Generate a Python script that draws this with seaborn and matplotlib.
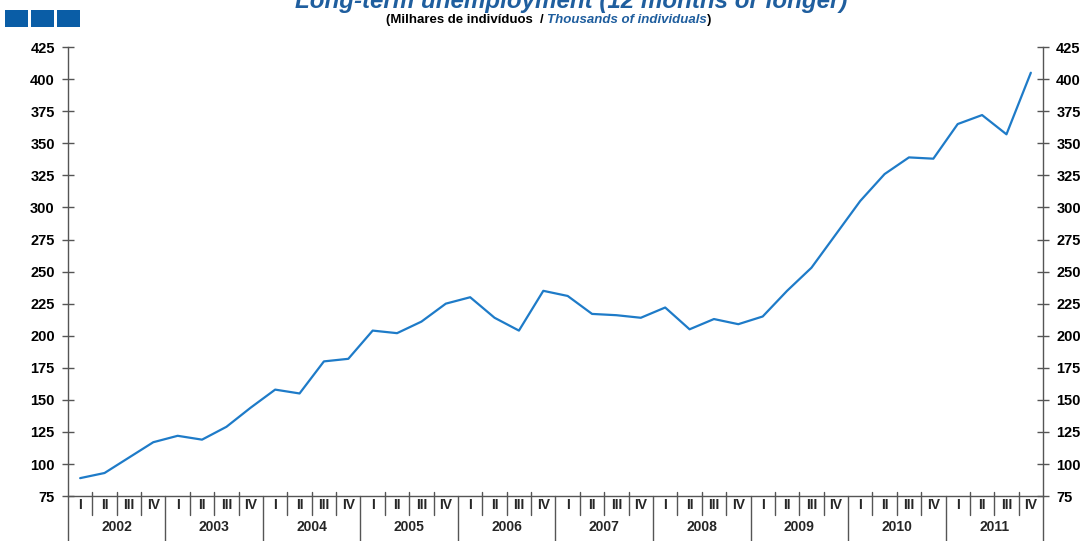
"""Long-term unemployment (12 months or longer), quarterly 2002-2011."""

import matplotlib
matplotlib.use("Agg")
import matplotlib.pyplot as plt
import matplotlib.transforms as mtransforms
from matplotlib.offsetbox import AnnotationBbox, HPacker, TextArea
from matplotlib.patches import Rectangle
import numpy as np
import pandas as pd
import seaborn as sns

YEARS = ["2002", "2003", "2004", "2005", "2006", "2007", "2008", "2009", "2010", "2011"]
QUARTERS = ["I", "II", "III", "IV"]
UNEMPLOYED = [
    89, 93, 105, 117,      # 2002
    122, 119, 129, 144,    # 2003
    158, 155, 180, 182,    # 2004
    204, 202, 211, 225,    # 2005
    230, 214, 204, 235,    # 2006
    231, 217, 216, 214,    # 2007
    222, 205, 213, 209,    # 2008
    215, 235, 253, 279,    # 2009
    305, 326, 339, 338,    # 2010
    365, 372, 357, 405,    # 2011
]
Y_TICKS = list(range(75, 426, 25))

LINE_BLUE = "#1E7BC8"
TITLE_BLUE = "#1F5E9E"
BOX_BLUE = "#0A5DA6"
SPINE = "#555555"
FONT = ["Liberation Sans", "DejaVu Sans"]


def main():
    sns.set_style("white")
    plt.rcParams["font.family"] = FONT

    df = pd.DataFrame({
        "pos": np.arange(len(UNEMPLOYED)),
        "value": UNEMPLOYED,
    })

    fig = plt.figure(figsize=(10.84, 5.41), dpi=100)
    ax = fig.add_axes([0.0627, 0.083, 0.8995, 0.830])
    sns.lineplot(data=df, x="pos", y="value", color=LINE_BLUE, linewidth=1.6, ax=ax)

    ax.set_xlim(-0.5, len(UNEMPLOYED) - 0.5)
    ax.set_ylim(Y_TICKS[0], Y_TICKS[-1])
    ax.set_xlabel("")
    ax.set_ylabel("")
    ax.set_yticks(Y_TICKS)
    ax.set_xticks([])
    ax.tick_params(axis="y", direction="inout", length=9, width=1, color=SPINE,
                   labelsize=10.5, labelcolor="black", left=True, right=True,
                   labelleft=True, labelright=True, pad=5)
    for lab in ax.get_yticklabels():
        lab.set_fontweight("bold")
    for side in ["left", "right", "bottom"]:
        ax.spines[side].set_color(SPINE)
        ax.spines[side].set_linewidth(1)
    ax.spines["top"].set_visible(False)

    # quarter / year separators and labels below the axis
    trans = mtransforms.blended_transform_factory(ax.transData, ax.transAxes)
    n = len(UNEMPLOYED)
    for b in range(n + 1):
        if b % 4 == 0:
            ax.plot([b - 0.5, b - 0.5], [0.0, -0.11], transform=trans, color=SPINE,
                    lw=1, clip_on=False)
        else:
            ax.plot([b - 0.5, b - 0.5], [0.009, -0.042], transform=trans, color=SPINE,
                    lw=1, clip_on=False)
    for i in range(n):
        ax.text(i, -0.019, QUARTERS[i % 4], transform=trans, ha="center", va="center",
                fontsize=10, fontweight="bold")
    for k, year in enumerate(YEARS):
        ax.text(4 * k + 1.5, -0.068, year, transform=trans, ha="center", va="center",
                fontsize=10, fontweight="bold")

    # header
    fig.text(0.527, 0.985, "Long-term unemployment (12 months or longer)",
             ha="center", va="baseline", fontsize=17.4, fontweight="bold",
             fontstyle="italic", color=TITLE_BLUE)
    parts = [
        TextArea("(Milhares de indivíduos  / ",
                 textprops=dict(fontsize=9.5, fontweight="bold", color="black")),
        TextArea("Thousands of individuals",
                 textprops=dict(fontsize=9.5, fontweight="bold", fontstyle="italic",
                                color=TITLE_BLUE)),
        TextArea(")", textprops=dict(fontsize=9.5, fontweight="bold", color="black")),
    ]
    box = HPacker(children=parts, align="baseline", pad=0, sep=0)
    fig.add_artist(AnnotationBbox(box, (0.506, 0.963), xycoords="figure fraction",
                                  frameon=False, box_alignment=(0.5, 0.5)))
    for x0 in [5, 31, 57]:
        fig.add_artist(Rectangle((x0 / 1084, 1 - 27 / 541), 23 / 1084, 17 / 541,
                                 transform=fig.transFigure, color=BOX_BLUE, lw=0))

    fig.savefig("out.png", dpi=100)
    plt.close(fig)


if __name__ == "__main__":
    main()
